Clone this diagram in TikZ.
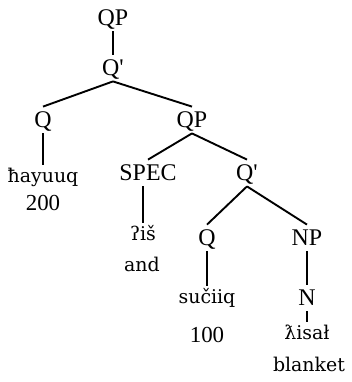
\documentclass[tikz,border=0pt]{standalone}
\usepackage{fontspec}
\setmainfont{Liberation Serif}[Ligatures=TeXOff]
\newfontfamily\wordfont{DejaVu Serif}
\begin{document}
\begin{tikzpicture}[x=1bp,y=-1bp,line width=1.9pt,
    cat/.style={font=\fontsize{24}{28}\selectfont,inner sep=4pt,text height=16pt,text depth=1pt},
    word/.style={font=\wordfont\fontsize{19}{22}\selectfont,inner sep=2pt,text height=15pt,text depth=4pt},
    gloss/.style={font=\fontsize{23}{26}\selectfont,inner sep=1pt}]
        \useasboundingbox(0,0)rectangle(352,382);
        \node[cat](qp)at(113,18){QP};
        \node[cat](qbar)at(113,68){Q'};
        \node[cat](q)at(43,120){Q};
        \node[cat](qpb)at(192,120){QP};
        \node[word](hayuuq)at(43,177){ħayuuq};
        \node[gloss](twohundred)at(43,203){200};
        \node[cat](spec)at(148,173){SPEC};
        \node[cat](qbarb)at(247,173){Q'};
        \node[word](is)at(143,235){ʔiš};
        \node[word](and)at(142,266){and};
        \node[cat](qc)at(207,238){Q};
        \node[cat](np)at(307,238){NP};
        \node[word](suciiq)at(207,298){sučiiq};
        \node[gloss](onehundred)at(207,335){100};
        \node[cat](n)at(307,298){N};
        \node[word](kisal)at(307,334){ƛisał};
        \node[word](blanket)at(309,366){blanket};
        \draw(qp.south)--(qbar.north);
        \draw(qbar.south)--(q.north);\draw(qbar.south)--(qpb.north);
        \draw(q.south)--(hayuuq.north);
        \draw(qpb.south)--(spec.north);\draw(qpb.south)--(qbarb.north);
        \draw(spec.south-|is)--(is.north);
        \draw(qbarb.south)--(qc.north);\draw(qbarb.south)--(np.north);
        \draw(qc.south)--(suciiq.north);
        \draw(np.south)--(n.north);
        \draw(n.south)--(kisal.north);
    \end{tikzpicture}
\end{document}
